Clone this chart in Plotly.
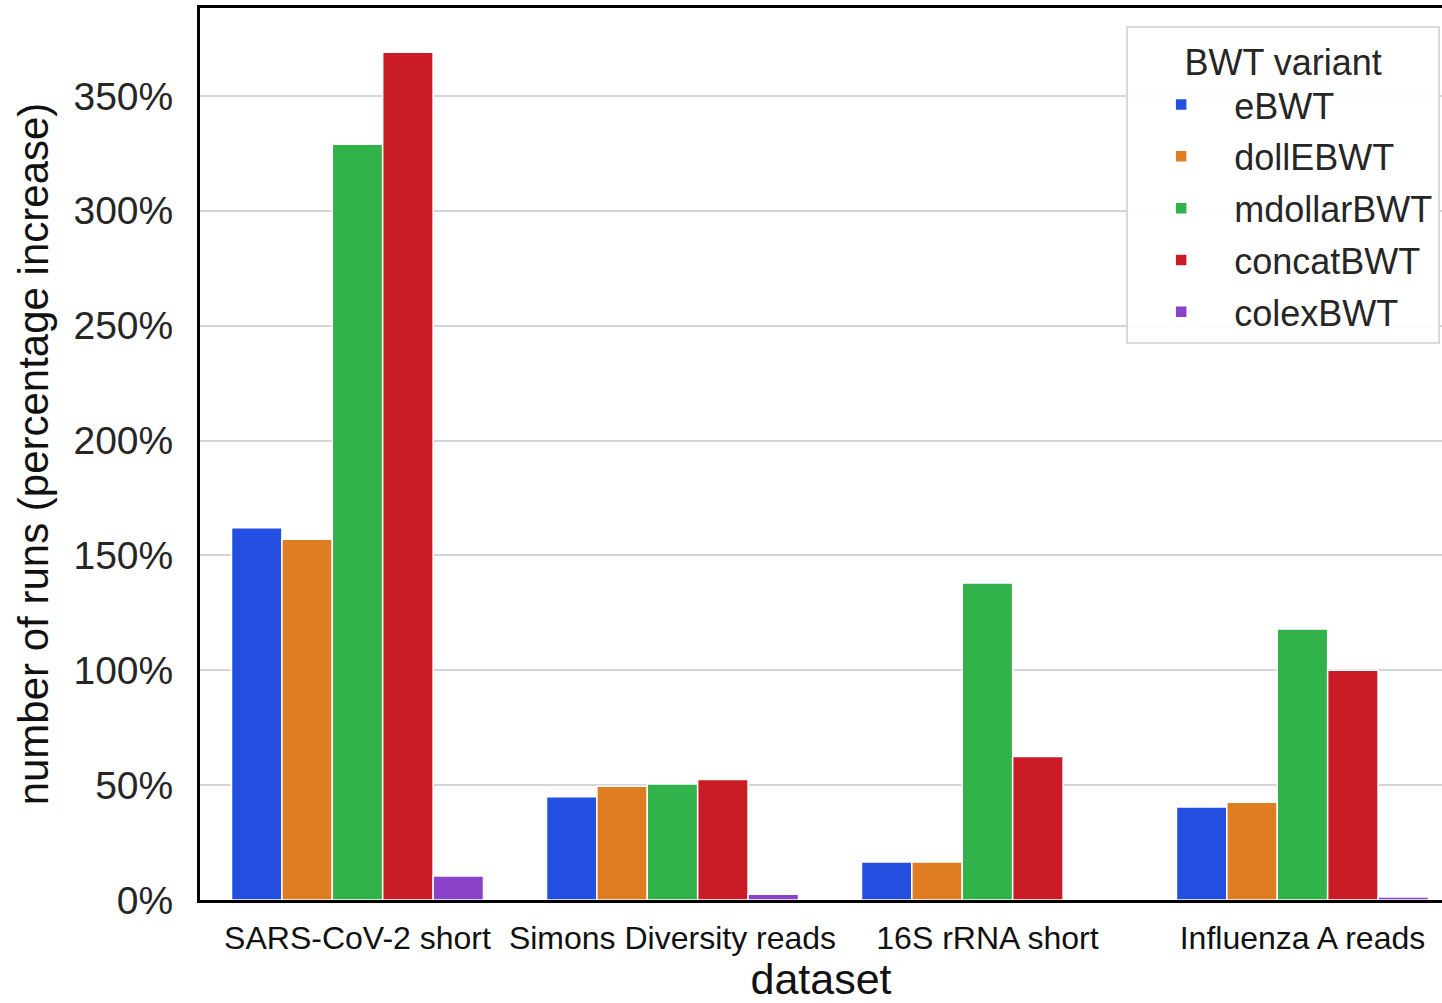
import plotly.graph_objects as go

datasets = ["SARS-CoV-2 short", "Simons Diversity reads", "16S rRNA short", "Influenza A reads"]
variants = ["eBWT", "dollEBWT", "mdollarBWT", "concatBWT", "colexBWT"]
colors = ["#2350e0", "#df7d22", "#31b24a", "#c91c26", "#8a42c9"]

ebwt = [162, 45, 16.5, 40.5]
dollebwt = [157, 49.5, 16.5, 42.5]
mdollarbwt = [329, 50.5, 138, 118]
concatbwt = [369, 52.5, 62.5, 100]
colexbwt = [10.5, 2.5, 0, 1.3]

series = [ebwt, dollebwt, mdollarbwt, concatbwt, colexbwt]

FONT = "Liberation Sans, Arial, Helvetica, sans-serif"

fig = go.Figure()
for name, vals, col in zip(variants, series, colors):
    fig.add_trace(go.Bar(
        x=datasets, y=vals, name=name, legendgroup=name,
        marker=dict(color=col, line=dict(color="white", width=1.5)),
    ))

fig.update_layout(
    width=1442, height=1003,
    margin=dict(l=200, r=0, t=8, b=103),
    paper_bgcolor="white", plot_bgcolor="white",
    barmode="group", bargap=0.2, bargroupgap=0,
    font=dict(family=FONT, color="#262626"),
    legend=dict(
        title=dict(text="BWT variant", font=dict(size=36, color="#262626"), side="top center"),
        font=dict(size=36, color="#262626"),
        x=0.9985, xanchor="right", y=0.98, yanchor="top",
        bgcolor="rgba(255,255,255,0.9)", bordercolor="#d9d9d9", borderwidth=2,
        itemwidth=96, tracegroupgap=2, traceorder="grouped",
    ),
    xaxis=dict(
        range=[-0.5, 3.443],
        showline=True, linecolor="black", linewidth=3, mirror=True,
        showgrid=False, ticks="",
        tickfont=dict(size=32, color="#111111"),
        ticklabelstandoff=8,
        title=dict(text="dataset", font=dict(size=43, color="#111111"), standoff=14),
    ),
    yaxis=dict(
        range=[0, 388.3],
        dtick=50, ticksuffix="%",
        showline=True, linecolor="black", linewidth=3, mirror=False,
        showgrid=True, gridcolor="#d4d4d4", gridwidth=2,
        zeroline=False, ticks="",
        tickfont=dict(size=39, color="#262626"),
        ticklabelstandoff=16,
        title=dict(text="number of runs (percentage increase)", font=dict(size=42, color="#111111"), standoff=12),
    ),
)

fig.write_html(
    "out.html",
    config={"displayModeBar": False},
    post_script="document.body.style.margin='0';document.body.style.overflow='hidden';",
)
